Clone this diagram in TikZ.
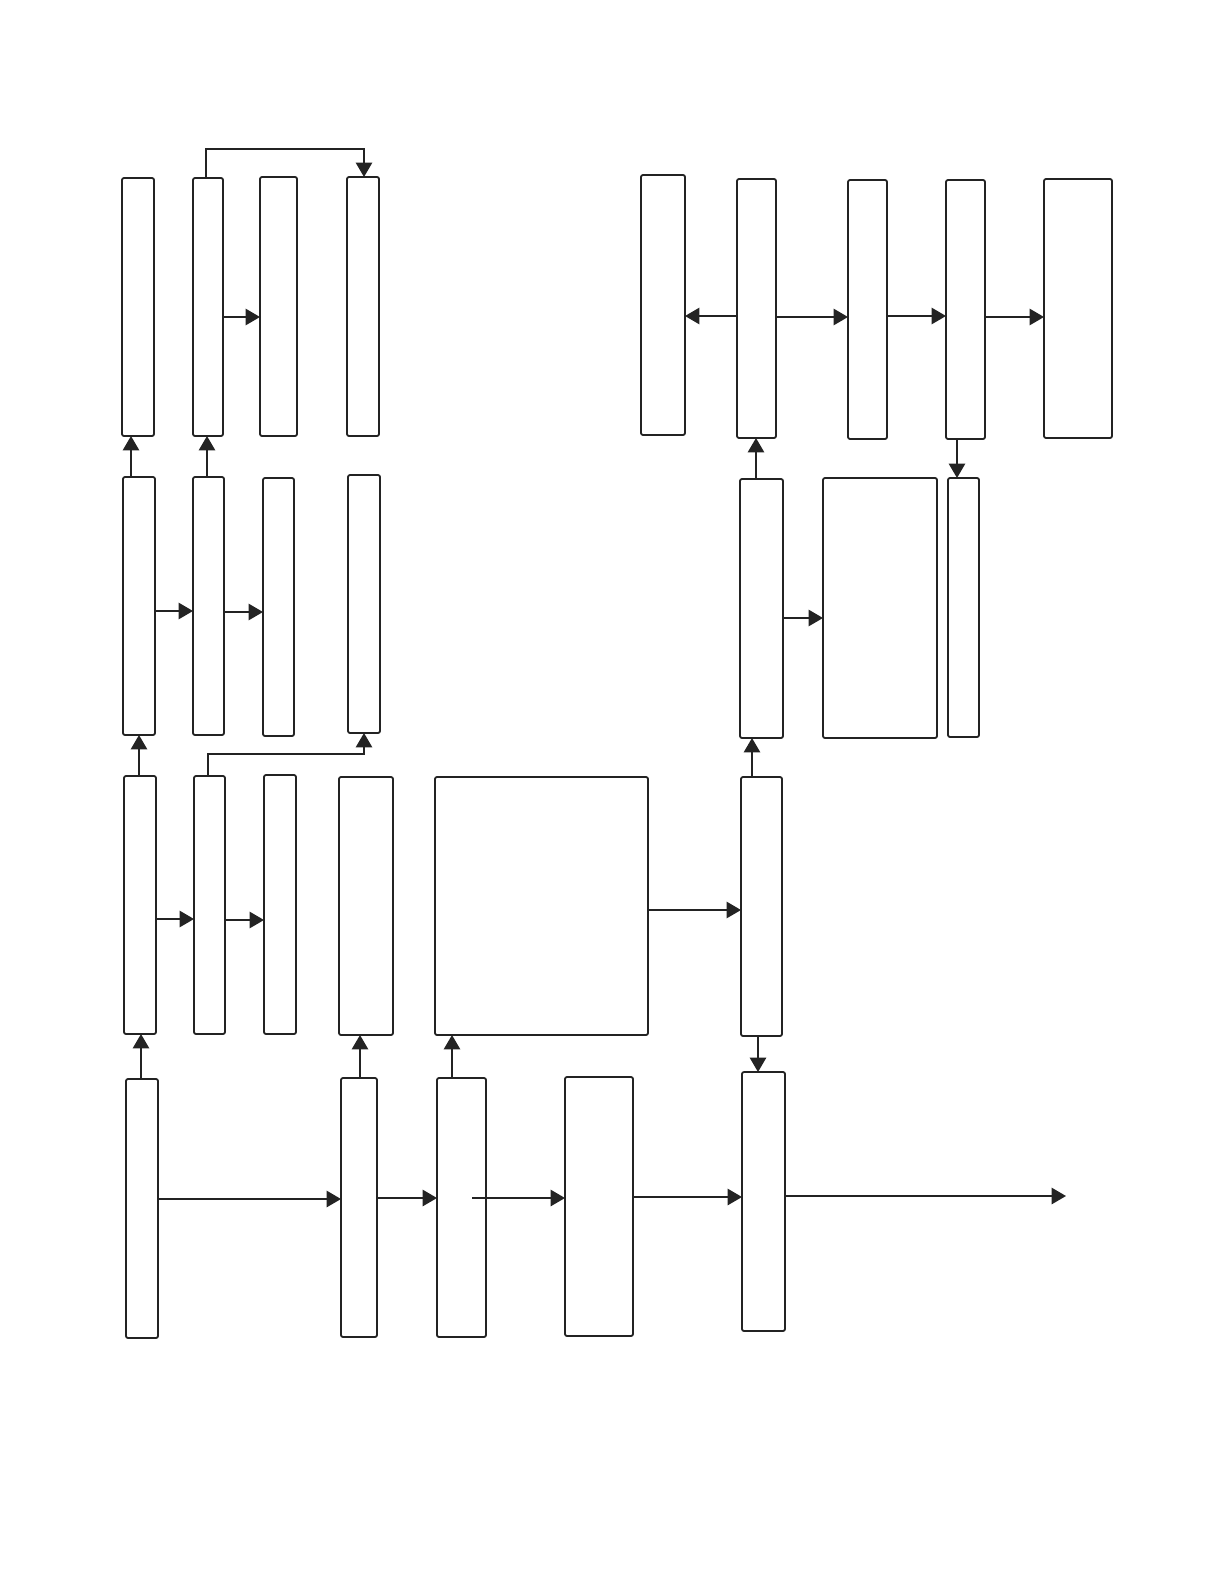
\documentclass[tikz,border=0pt]{standalone}
\usetikzlibrary{arrows.meta}
\definecolor{lc}{RGB}{35,35,35}
\newcommand{\pbox}[5]{\node[bx, minimum width={(#4-#2)*0.5pt}, minimum height={(#5-#3)*0.5pt}] (#1) at ({(#2+#4)/2},{(#3+#5)/2}) {};}
\begin{document}
\begin{tikzpicture}[x=0.5pt,y=-0.5pt,
  bx/.style={draw=lc, line width=0.9pt, rounded corners=1pt, inner sep=0pt, outer sep=0pt, fill=white},
  arr/.style={draw=lc, line width=0.8pt, -{Triangle[length=7.2pt,width=8.2pt]}},
  ln/.style={draw=lc, line width=0.8pt}]
\useasboundingbox (0,0) rectangle (1224,1584);
% row A
\pbox{A1}{122}{178}{154}{436}
\pbox{A2}{193}{178}{223}{436}
\pbox{A3}{260}{177}{297}{436}
\pbox{A4}{347}{177}{379}{436}
% row B
\pbox{B1}{123}{477}{155}{735}
\pbox{B2}{193}{477}{224}{735}
\pbox{B3}{263}{478}{294}{736}
\pbox{B4}{348}{475}{380}{733}
% row C
\pbox{C1}{124}{776}{156}{1034}
\pbox{C2}{194}{776}{225}{1034}
\pbox{C3}{264}{775}{296}{1034}
\pbox{C4}{339}{777}{393}{1035}
\pbox{C5}{435}{777}{648}{1035}
% row D
\pbox{D1}{126}{1079}{158}{1338}
\pbox{D2}{341}{1078}{377}{1337}
\pbox{D3}{437}{1078}{486}{1337}
\pbox{D4}{565}{1077}{633}{1336}
\pbox{D5}{742}{1072}{785}{1331}
% right top row
\pbox{E1}{641}{175}{685}{435}
\pbox{E2}{737}{179}{776}{438}
\pbox{E3}{848}{180}{887}{439}
\pbox{E4}{946}{180}{985}{439}
\pbox{E5}{1044}{179}{1112}{438}
% right middle row
\pbox{F1}{740}{479}{783}{738}
\pbox{F2}{823}{478}{937}{738}
\pbox{F3}{948}{478}{979}{737}
% right lower
\pbox{G1}{741}{777}{782}{1036}

% connectors row A
\draw[arr] (206,0 |- A2.north) -- (206,149) -- (364,149) -- (364,0 |- A4.north);
\draw[arr] (A2.east |- 0,317) -- (A3.west |- 0,317);
% row B
\draw[arr] (131,0 |- B1.north) -- (131,0 |- A1.south);
\draw[arr] (207,0 |- B2.north) -- (207,0 |- A2.south);
\draw[arr] (B1.east |- 0,611) -- (B2.west |- 0,611);
\draw[arr] (B2.east |- 0,612) -- (B3.west |- 0,612);
% row C
\draw[arr] (139,0 |- C1.north) -- (139,0 |- B1.south);
\draw[arr] (208,0 |- C2.north) -- (208,754) -- (364,754) -- (364,0 |- B4.south);
\draw[arr] (C1.east |- 0,919) -- (C2.west |- 0,919);
\draw[arr] (C2.east |- 0,920) -- (C3.west |- 0,920);
\draw[arr] (C5.east |- 0,910) -- (G1.west |- 0,910);
% row D
\draw[arr] (141,0 |- D1.north) -- (141,0 |- C1.south);
\draw[arr] (360,0 |- D2.north) -- (360,0 |- C4.south);
\draw[arr] (452,0 |- D3.north) -- (452,0 |- C5.south);
\draw[arr] (D1.east |- 0,1199) -- (D2.west |- 0,1199);
\draw[arr] (D2.east |- 0,1198) -- (D3.west |- 0,1198);
\coordinate (d3in) at (472,1198);
\draw[arr] (d3in) -- (D4.west |- d3in);
\draw[arr] (D4.east |- 0,1197) -- (D5.west |- 0,1197);
\coordinate (outR) at (1066,1196);
\draw[arr] (D5.east |- outR) -- (outR);
% right side
\draw[arr] (E2.west |- 0,316) -- (E1.east |- 0,316);
\draw[arr] (E2.east |- 0,317) -- (E3.west |- 0,317);
\draw[arr] (E3.east |- 0,316) -- (E4.west |- 0,316);
\draw[arr] (E4.east |- 0,317) -- (E5.west |- 0,317);
\draw[arr] (756,0 |- F1.north) -- (756,0 |- E2.south);
\draw[arr] (957,0 |- E4.south) -- (957,0 |- F3.north);
\draw[arr] (F1.east |- 0,618) -- (F2.west |- 0,618);
\draw[arr] (752,0 |- G1.north) -- (752,0 |- F1.south);
\draw[arr] (758,0 |- G1.south) -- (758,0 |- D5.north);
\end{tikzpicture}
\end{document}
